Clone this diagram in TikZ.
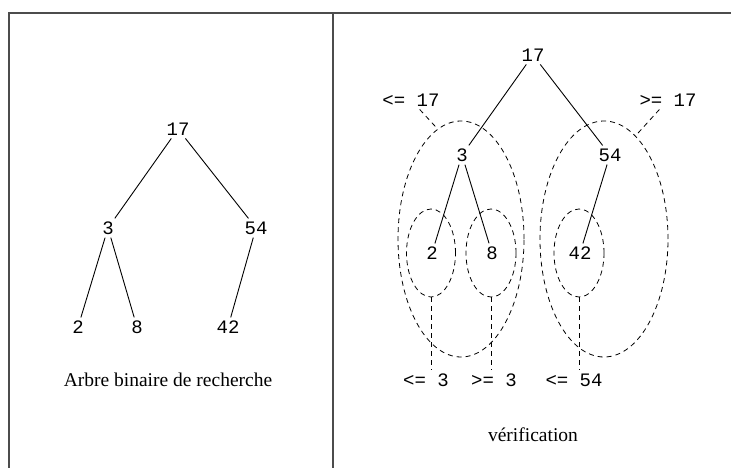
\documentclass[tikz,border=0pt]{standalone}
\usepackage{fontspec}
\setmainfont{Liberation Serif}
\setmonofont{Liberation Mono}
\usepackage{tikz}
\usetikzlibrary{shapes.geometric}

\begin{document}
\begin{tikzpicture}[x=1pt, y=-1pt,
  key/.style={font=\fontsize{19}{20}\selectfont\ttfamily, inner sep=3pt},
  legend/.style={font=\fontsize{19.5}{22}\selectfont},
  branch/.style={line width=0.9pt},
  zone/.style={draw, ellipse, dash pattern=on 5pt off 4pt, line width=0.8pt, inner sep=0pt},
  guide/.style={dash pattern=on 5pt off 4pt, line width=0.8pt}]
  \useasboundingbox (0,0) rectangle (731,468);
  \draw[gray!60!black, line width=1.2pt] (9,480) -- (9,13) -- (740,13);
  \draw[gray!60!black, line width=1.2pt] (333,13) -- (333,480);

  % arbre de gauche
  \node[key] (a17) at (178,129) {17};
  \node[key] (a3) at (108,228) {3};
  \node[key] (a54) at (256,228) {54};
  \node[key] (a2) at (78,327) {2};
  \node[key] (a8) at (137,327) {8};
  \node[key] (a42) at (228,327) {42};
  \draw[branch] (a17) -- (a3);
  \draw[branch] (a17) -- (a54);
  \draw[branch] (a3) -- (a2);
  \draw[branch] (a3) -- (a8);
  \draw[branch] (a54) -- (a42);
  \node[legend] (capl) at (168,380) {Arbre binaire de recherche};

  % verification
  \node[key] (b17) at (533,55) {17};
  \node[key] (b3) at (462,155) {3};
  \node[key] (b54) at (610,155) {54};
  \node[key] (b2) at (432,253) {2};
  \node[key] (b8) at (492,253) {8};
  \node[key] (b42) at (580,253) {42};
  \draw[branch] (b17) -- (b3);
  \draw[branch] (b17) -- (b54);
  \draw[branch] (b3) -- (b2);
  \draw[branch] (b3) -- (b8);
  \draw[branch] (b54) -- (b42);

  \node[zone, minimum width=126, minimum height=236] (zl) at (461,239) {};
  \node[zone, minimum width=128, minimum height=236] (zr) at (604,239) {};
  \node[zone, minimum width=49, minimum height=88] (z2) at (431,253) {};
  \node[zone, minimum width=50, minimum height=88] (z8) at (491,253) {};
  \node[zone, minimum width=50, minimum height=88] (z42) at (579,253) {};

  \node[key] (le17) at (411,100) {<= 17};
  \node[key] (ge17) at (668,100) {>= 17};
  \node[key] (le3) at (426,380) {<= 3};
  \node[key] (ge3) at (494,380) {>= 3};
  \node[key] (le54) at (574,380) {<= 54};
  \draw[guide] (le17) -- (zl.102);
  \draw[guide] (ge17) -- (zr.73);
  \draw[guide] (z2.south) -- (z2.south |- le3.north);
  \draw[guide] (z8.south) -- (z8.south |- ge3.north);
  \draw[guide] (z42.south) -- (z42.south |- le54.north);

  \node[legend] (capr) at (533,435) {vérification};
\end{tikzpicture}
\end{document}
